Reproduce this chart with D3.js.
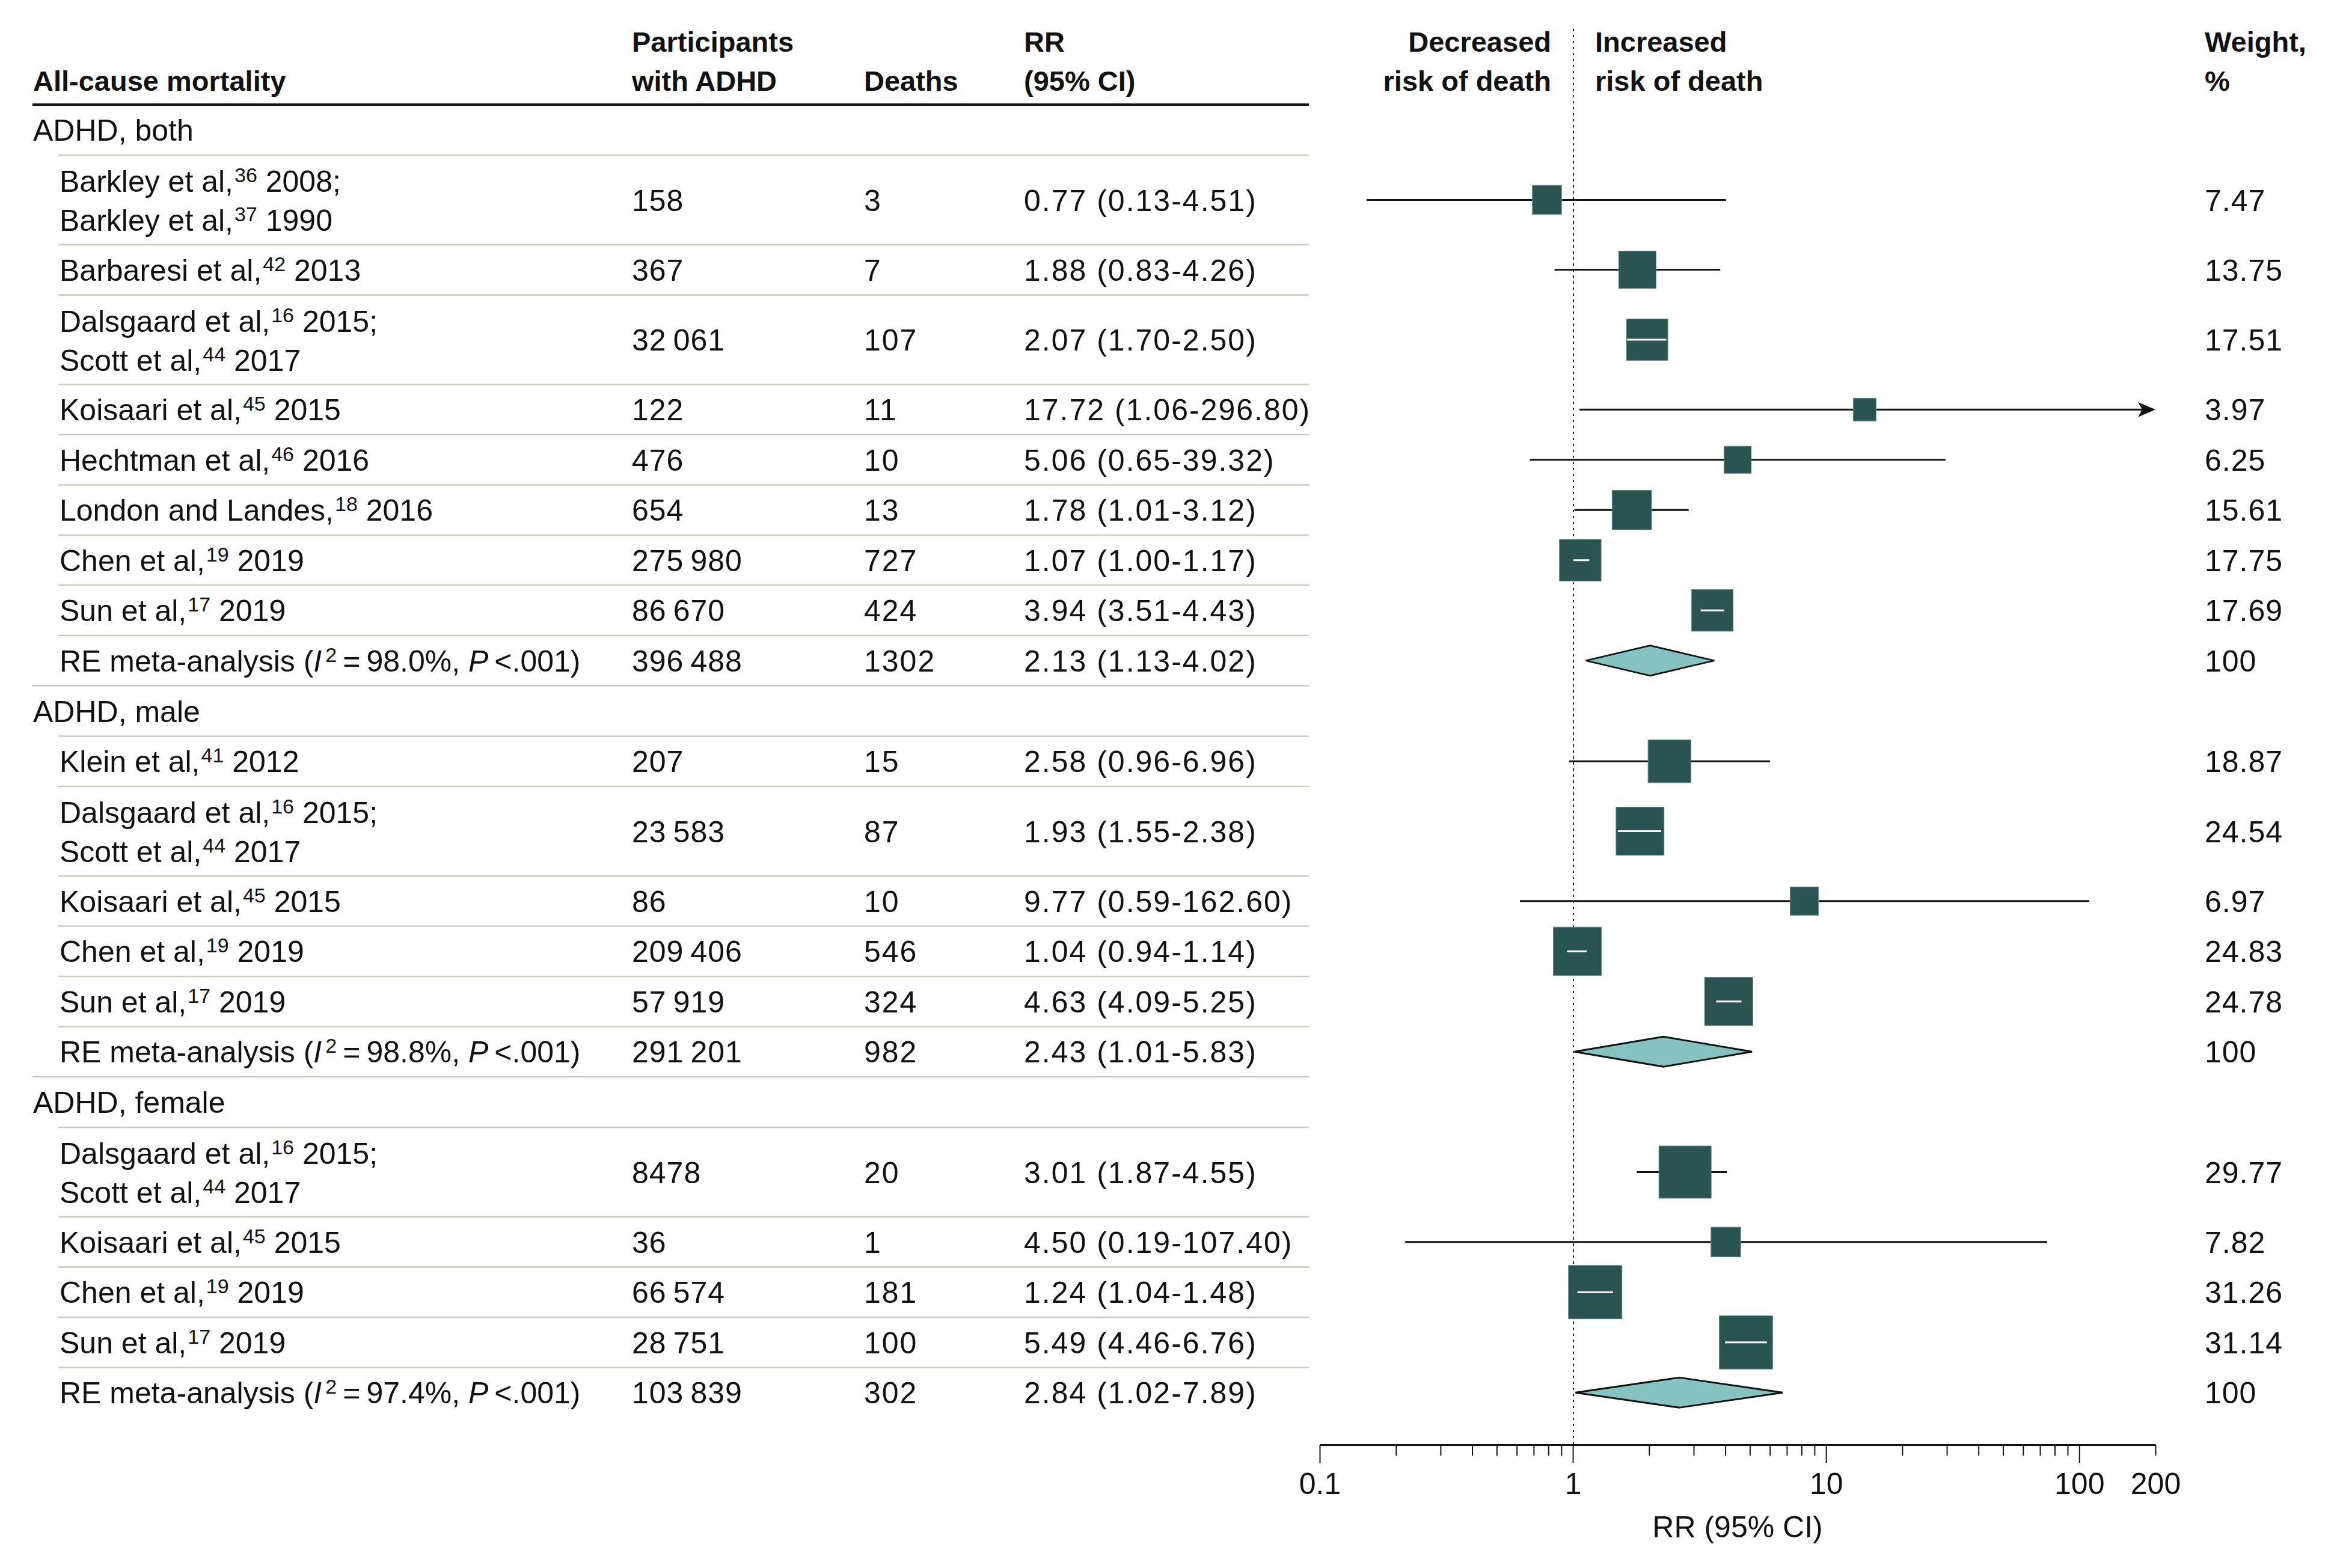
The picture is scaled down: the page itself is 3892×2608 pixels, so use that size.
<!DOCTYPE html>
<html><head><meta charset="utf-8">
<script src="https://cdn.jsdelivr.net/npm/d3@7"></script>
<style>
html,body{margin:0;padding:0;background:#fff;}
svg{display:block;}
text{font-family:"Liberation Sans",Arial,sans-serif;fill:#111;}
</style></head><body>
<svg id="chart" width="3892" height="2608"></svg>
<script>
// ---------------- DATA ----------------
const headerLabels = [
  ["", "All-cause mortality"],
  ["Participants", "with ADHD"],
  ["", "Deaths"],
  ["RR", "(95% CI)"],
  ["Decreased", "risk of death"],
  ["Increased", "risk of death"],
  ["Weight,", "%"]
];
const groupNames = ["ADHD, both", "ADHD, male", "ADHD, female"];
const studyGroup = [0,0,0,0,0,0,0,0, 1,1,1,1,1, 2,2,2,2];
// each line: [text, superscript reference, text after]
const studyLabels = [
  [["Barkley et al,", "36", " 2008;"], ["Barkley et al,", "37", " 1990"]],
  [["Barbaresi et al,", "42", " 2013"]],
  [["Dalsgaard et al,", "16", " 2015;"], ["Scott et al,", "44", " 2017"]],
  [["Koisaari et al,", "45", " 2015"]],
  [["Hechtman et al,", "46", " 2016"]],
  [["London and Landes,", "18", " 2016"]],
  [["Chen et al,", "19", " 2019"]],
  [["Sun et al,", "17", " 2019"]],
  [["Klein et al,", "41", " 2012"]],
  [["Dalsgaard et al,", "16", " 2015;"], ["Scott et al,", "44", " 2017"]],
  [["Koisaari et al,", "45", " 2015"]],
  [["Chen et al,", "19", " 2019"]],
  [["Sun et al,", "17", " 2019"]],
  [["Dalsgaard et al,", "16", " 2015;"], ["Scott et al,", "44", " 2017"]],
  [["Koisaari et al,", "45", " 2015"]],
  [["Chen et al,", "19", " 2019"]],
  [["Sun et al,", "17", " 2019"]]
];
const studyParticipants = [158, 367, 32061, 122, 476, 654, 275980, 86670, 207, 23583, 86, 209406, 57919, 8478, 36, 66574, 28751];
const studyDeaths       = [3, 7, 107, 11, 10, 13, 727, 424, 15, 87, 10, 546, 324, 20, 1, 181, 100];
const studyRR           = [0.77, 1.88, 2.07, 17.72, 5.06, 1.78, 1.07, 3.94, 2.58, 1.93, 9.77, 1.04, 4.63, 3.01, 4.50, 1.24, 5.49];
const studyLo           = [0.13, 0.83, 1.70, 1.06, 0.65, 1.01, 1.00, 3.51, 0.96, 1.55, 0.59, 0.94, 4.09, 1.87, 0.19, 1.04, 4.46];
const studyHi           = [4.51, 4.26, 2.50, 296.80, 39.32, 3.12, 1.17, 4.43, 6.96, 2.38, 162.60, 1.14, 5.25, 4.55, 107.40, 1.48, 6.76];
const studyWeight       = [7.47, 13.75, 17.51, 3.97, 6.25, 15.61, 17.75, 17.69, 18.87, 24.54, 6.97, 24.83, 24.78, 29.77, 7.82, 31.26, 31.14];

const metaLabel        = "RE meta-analysis";
const metaI2           = ["98.0%", "98.8%", "97.4%"];
const metaP            = ["<.001", "<.001", "<.001"];
const metaParticipants = [396488, 291201, 103839];
const metaDeaths       = [1302, 982, 302];
const metaRR           = [2.13, 2.43, 2.84];
const metaLo           = [1.13, 1.01, 1.02];
const metaHi           = [4.02, 5.83, 7.89];
const metaWeight       = [100, 100, 100];

const tickLabels = [0.1, 1, 10, 100, 200];
const longTicks  = [0.1, 1, 10, 100];
const shortTicks = [0.2,0.3,0.4,0.5,0.6,0.7,0.8,0.9, 2,3,4,5,6,7,8,9, 20,30,40,50,60,70,80,90, 200];
const axisTitle  = "RR (95% CI)";

// ---------------- LAYOUT ----------------
const svg = d3.select("#chart");
svg.append("rect").attr("width", 3892).attr("height", 2608).attr("fill", "#fff");

const FS = 50, FSB = 47, SUP = 34;
const colX = [55, 1051, 1437, 1703, 2580, 2653, 3667];
const colAnchor = ["start","start","start","start","end","start","start"];
const labelX = 99, groupX = 55, tableRight = 2177;
const partX = 1051, deathX = 1437, rrX = 1703, weightX = 3667;
const headerTop = 174;
const axisY = 2403;

// marks scale (as plotted in the reference) and axis scale
const x = d3.scaleLog().domain([1, 10]).range([2617, 3005]);
const xAxisScale = d3.scaleLog().domain([0.1, 200]).range([2195, 3585]);
const side = d3.scaleLinear().domain([2, 5.6]).range([38, 89]);

const fmt2 = d3.format(".2f");
const fmtW = d3.format(".2~f");
const thinLocale = d3.formatLocale({decimal: ".", thousands: "\u2009", grouping: [3], currency: ["", ""]});
const fmtThin = thinLocale.format(",");
const fmtN = n => n >= 10000 ? fmtThin(n) : String(n);
const rrText = (r, l, h) => `${fmt2(r)} (${fmt2(l)}-${fmt2(h)})`;

// header
const hdr = svg.append("g");
headerLabels.forEach((lines, c) => {
  lines.forEach((t, li) => {
    if (!t) return;
    hdr.append("text")
      .attr("x", colX[c]).attr("y", li === 0 ? 86 : 151)
      .attr("text-anchor", colAnchor[c])
      .attr("font-size", FSB).attr("font-weight", "bold")
      .text(t);
  });
});
hdr.append("line").attr("x1", 54).attr("x2", tableRight).attr("y1", headerTop).attr("y2", headerTop)
  .attr("stroke", "#151515").attr("stroke-width", 4);

// rows
const rows = [];
let cy = headerTop;
groupNames.forEach((gname, g) => {
  rows.push({type: "group", g, y0: cy, h: 84}); cy += 84;
  studyGroup.forEach((sg, i) => {
    if (sg !== g) return;
    const h = studyLabels[i].length === 2 ? 149 : 83.5;
    rows.push({type: "study", g, i, y0: cy, h}); cy += h;
  });
  rows.push({type: "meta", g, y0: cy, h: 83.5}); cy += 83.5;
});

// reference dotted line at RR = 1
svg.append("line").attr("x1", x(1)).attr("x2", x(1)).attr("y1", 48).attr("y2", axisY)
  .attr("stroke", "#222").attr("stroke-width", 2).attr("stroke-dasharray", "4,6");

const tbl = svg.append("g");
const marks = svg.append("g");

function numText(xp, y, t, ls) {
  tbl.append("text").attr("x", xp).attr("y", y).attr("font-size", FS)
    .attr("letter-spacing", ls).text(t);
}

rows.forEach((r, k) => {
  const c = r.y0 + r.h / 2;
  const base = c + 18;
  const last = k === rows.length - 1;
  if (!last) {
    const xs = (r.type === "meta") ? 54 : 97;
    tbl.append("line").attr("x1", xs).attr("x2", tableRight)
      .attr("y1", r.y0 + r.h).attr("y2", r.y0 + r.h)
      .attr("stroke", "#c9ccbc").attr("stroke-width", 2.5);
  }
  if (r.type === "group") {
    tbl.append("text").attr("x", groupX).attr("y", base).attr("font-size", FS).text(groupNames[r.g]);
    return;
  }
  if (r.type === "study") {
    const i = r.i;
    const lines = studyLabels[i];
    lines.forEach((ln, li) => {
      const yb = lines.length === 2 ? (li === 0 ? c - 13.5 : c + 51.5) : base;
      const t = tbl.append("text").attr("x", labelX).attr("y", yb).attr("font-size", FS);
      t.append("tspan").text(ln[0]);
      t.append("tspan").attr("font-size", SUP).attr("dx", 2).attr("dy", -16).text(ln[1]);
      t.append("tspan").attr("font-size", FS).attr("dy", 16).text(ln[2]);
    });
    numText(partX, base, fmtN(studyParticipants[i]), 1);
    numText(deathX, base, String(studyDeaths[i]), 2);
    numText(rrX, base, rrText(studyRR[i], studyLo[i], studyHi[i]), 2);
    numText(weightX, base, fmtW(studyWeight[i]), 1);

    // marks
    const s = side(Math.sqrt(studyWeight[i]));
    const cx = x(studyRR[i]);
    const over = studyHi[i] > xAxisScale.domain()[1];
    const xl = x(studyLo[i]);
    const xr = over ? xAxisScale(xAxisScale.domain()[1]) : x(studyHi[i]);
    const inside = xl >= cx - s / 2 && xr <= cx + s / 2;
    if (!inside) {
      marks.append("line").attr("x1", xl).attr("x2", over ? xr - 20 : xr).attr("y1", c).attr("y2", c)
        .attr("stroke", "#111").attr("stroke-width", 2.8);
      if (over) {
        marks.append("path")
          .attr("d", `M${xr},${c} L${xr - 29},${c - 12.5} L${xr - 22},${c} L${xr - 29},${c + 12.5} Z`)
          .attr("fill", "#111");
      }
    }
    marks.append("rect").attr("x", cx - s / 2).attr("y", c - s / 2).attr("width", s).attr("height", s)
      .attr("fill", "#2a5351").attr("stroke", "#5f8c89").attr("stroke-width", 1);
    if (inside) {
      marks.append("line").attr("x1", xl).attr("x2", xr).attr("y1", c).attr("y2", c)
        .attr("stroke", "#fff").attr("stroke-width", 3);
    }
    return;
  }
  // meta row
  const g = r.g;
  const t = tbl.append("text").attr("x", labelX).attr("y", base).attr("font-size", FS);
  t.append("tspan").text(metaLabel + " (");
  t.append("tspan").attr("font-style", "italic").text("I");
  t.append("tspan").attr("font-size", SUP).attr("dx", 6).attr("dy", -16).text("2");
  t.append("tspan").attr("font-size", FS).attr("dy", 16).text("\u2009=\u2009" + metaI2[g] + ", ");
  t.append("tspan").attr("font-style", "italic").text("P");
  t.append("tspan").text("\u2009" + metaP[g] + ")");
  numText(partX, base, fmtN(metaParticipants[g]), 1);
  numText(deathX, base, String(metaDeaths[g]), 2);
  numText(rrX, base, rrText(metaRR[g], metaLo[g], metaHi[g]), 2);
  numText(weightX, base, fmtW(metaWeight[g]), 1);
  const dh = 25;
  marks.append("path")
    .attr("d", `M${x(metaLo[g])},${c} L${x(metaRR[g])},${c - dh} L${x(metaHi[g])},${c} L${x(metaRR[g])},${c + dh} Z`)
    .attr("fill", "#86c2bf").attr("stroke", "#111").attr("stroke-width", 2.8).attr("stroke-linejoin", "miter");
});

// ---------------- AXIS ----------------
const axG = svg.append("g").attr("transform", `translate(0,${axisY})`);
const gShort = axG.append("g").call(d3.axisBottom(xAxisScale).tickValues(shortTicks).tickSize(18).tickSizeOuter(0).tickFormat(""));
const gLong = axG.append("g").call(d3.axisBottom(xAxisScale).tickValues(longTicks).tickSize(30).tickSizeOuter(0).tickFormat(""));
const gLab = axG.append("g").call(d3.axisBottom(xAxisScale).tickValues(tickLabels).tickSize(0).tickPadding(46.5).tickFormat(d3.format("~g")));
gShort.select(".domain").remove();
gLab.select(".domain").remove();
gLab.selectAll(".tick line").remove();
gLong.select(".domain").attr("stroke", "#111").attr("stroke-width", 3);
axG.selectAll(".tick line").attr("stroke", "#111").attr("stroke-width", 2);
gLab.attr("font-size", null).attr("font-family", null);
gLab.selectAll("text").attr("font-size", FS).attr("fill", "#111");

svg.append("text").attr("x", (xAxisScale.range()[0] + xAxisScale.range()[1]) / 2).attr("y", 2557)
  .attr("text-anchor", "middle").attr("font-size", FS).text(axisTitle);
</script>
</body></html>
